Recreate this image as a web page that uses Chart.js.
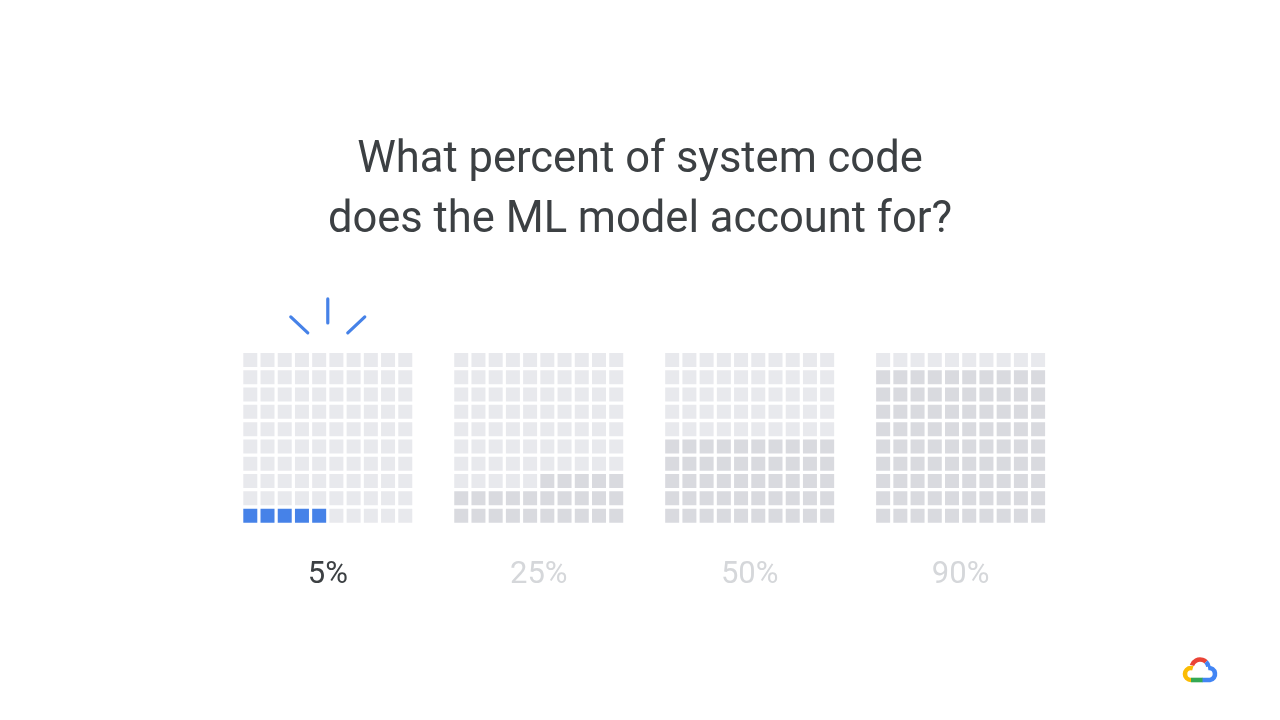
<!DOCTYPE html>
<html>
<head>
<meta charset="utf-8">
<script src="https://cdn.jsdelivr.net/npm/chart.js@4"></script>
<style>
  html, body { margin: 0; padding: 0; background: #ffffff; }
  #wrap { width: 1280px; height: 720px; position: relative; }
</style>
</head>
<body>
<div id="wrap"><canvas id="c" width="1280" height="720"></canvas></div>
<script>
// ---- data ----
const titleLines = ['What percent of system code', 'does the ML model account for?'];
const categories = ['5%', '25%', '50%', '90%'];
const filledCells = [5, 25, 50, 90];
const highlightIndex = 0;
const partialRowSide = ['left', 'right', 'right', 'right'];

// ---- layout / style constants ----
const GRID_SIZE = 10;
const GRID_STEP = 12.25;        // grid-to-grid distance, in cell units
const CELL_SIDE_PX = 14;
const COLOR_EMPTY = '#e8e9ed';
const COLOR_FILLED = '#d9dadf';
const COLOR_HIGHLIGHT = '#4682e8';
const TEXT_DARK = '#3c4043';
const TEXT_LIGHT = '#d5d7da';

function buildCells(kind) {
  const pts = [];
  categories.forEach((cat, g) => {
    const n = filledCells[g];
    const fullRows = Math.floor(n / GRID_SIZE);
    const rem = n % GRID_SIZE;
    for (let r = 0; r < GRID_SIZE; r++) {
      for (let c = 0; c < GRID_SIZE; c++) {
        let filled = r < fullRows;
        if (r === fullRows && rem > 0) {
          filled = partialRowSide[g] === 'left' ? c < rem : c >= GRID_SIZE - rem;
        }
        let k = 'empty';
        if (filled) k = (g === highlightIndex) ? 'highlight' : 'filled';
        if (k === kind) pts.push({ x: g * GRID_STEP + c, y: r });
      }
    }
  });
  return pts;
}

const pointR = CELL_SIDE_PX / (2 * Math.SQRT1_2);
function cellDataset(kind, color) {
  return {
    label: kind,
    data: buildCells(kind),
    pointStyle: 'rect',
    pointRadius: pointR,
    pointHoverRadius: pointR,
    pointBorderWidth: 0,
    pointHoverBorderWidth: 0,
    backgroundColor: color,
    borderColor: color,
    showLine: false
  };
}

// decorative "spark" above highlighted grid + logo
const decoPlugin = {
  id: 'deco',
  afterDatasetsDraw(chart) {
    const ctx = chart.ctx;
    const xs = chart.scales.x, ys = chart.scales.y;
    const cx = xs.getPixelForValue(highlightIndex * GRID_STEP + (GRID_SIZE - 1) / 2);
    const top = ys.getPixelForValue(GRID_SIZE - 1) - CELL_SIDE_PX / 2;
    ctx.save();
    ctx.strokeStyle = COLOR_HIGHLIGHT;
    ctx.lineWidth = 3.2;
    ctx.lineCap = 'round';
    const segs = [
      [0, -54, 0, -30],
      [-37, -36, -20, -20],
      [37, -36, 20, -20]
    ];
    segs.forEach(s => {
      ctx.beginPath();
      ctx.moveTo(cx + s[0], top + s[1]);
      ctx.lineTo(cx + s[2], top + s[3]);
      ctx.stroke();
    });
    ctx.restore();

    // Google Cloud logo (bottom right)
    const lx = 1200, ly = 670;
    ctx.save();
    ctx.lineWidth = 4.6;
    ctx.lineCap = 'butt';
    ctx.strokeStyle = '#ea4335';
    ctx.beginPath();
    ctx.arc(lx, ly - 2, 8.5, Math.PI * 1.1, Math.PI * 1.75);
    ctx.stroke();
    ctx.strokeStyle = '#4285f4';
    ctx.beginPath();
    ctx.arc(lx, ly - 2, 8.5, Math.PI * 1.75, Math.PI * 1.95);
    ctx.stroke();
    ctx.beginPath();
    ctx.arc(lx + 9, ly + 4, 6, Math.PI * 1.45, Math.PI * 0.5);
    ctx.lineTo(lx + 2, ly + 10);
    ctx.stroke();
    ctx.strokeStyle = '#34a853';
    ctx.beginPath();
    ctx.moveTo(lx + 2.5, ly + 10);
    ctx.lineTo(lx - 9, ly + 10);
    ctx.stroke();
    ctx.strokeStyle = '#fbbc04';
    ctx.beginPath();
    ctx.arc(lx - 9, ly + 4, 6, Math.PI * 0.5, Math.PI * 1.6);
    ctx.stroke();
    ctx.restore();
  }
};

new Chart(document.getElementById('c'), {
  type: 'scatter',
  data: {
    datasets: [
      cellDataset('empty', COLOR_EMPTY),
      cellDataset('filled', COLOR_FILLED),
      cellDataset('highlight', COLOR_HIGHLIGHT)
    ]
  },
  options: {
    responsive: false,
    animation: false,
    events: [],
    layout: { autoPadding: false, padding: { left: 0, right: 0, top: 0, bottom: 123.7 } },
    plugins: {
      legend: { display: false },
      tooltip: { enabled: false },
      title: {
        display: true,
        text: titleLines,
        color: TEXT_DARK,
        font: { family: 'Roboto', size: 43.5, weight: 400, lineHeight: 1.391 },
        padding: { top: 130.7, bottom: 7.8 }
      }
    },
    scales: {
      x: {
        type: 'linear',
        position: 'bottom',
        min: -14.535,
        max: 59.797,
        grid: { display: false, drawTicks: false },
        border: { display: false },
        afterBuildTicks(scale) {
          scale.ticks = categories.map((c, i) => ({ value: i * GRID_STEP + (GRID_SIZE - 1) / 2 }));
        },
        ticks: {
          autoSkip: false,
          maxRotation: 0,
          minRotation: 0,
          padding: 2.5,
          font: { family: 'Roboto', size: 31, weight: 400 },
          color: (ctx) => ctx.index === highlightIndex ? TEXT_DARK : TEXT_LIGHT,
          callback: (v, i) => categories[i]
        }
      },
      y: {
        type: 'linear',
        display: false,
        min: -2.22,
        max: 14.80
      }
    }
  },
  plugins: [decoPlugin]
});
</script>
</body>
</html>
